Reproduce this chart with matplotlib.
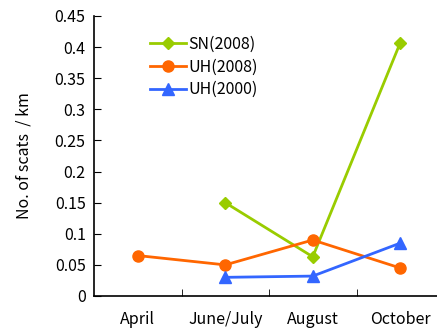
import matplotlib
matplotlib.use("Agg")
import matplotlib.pyplot as plt

plt.rcParams['font.family'] = ['Noto Sans CJK JP', 'DejaVu Sans']

categories = ["April", "June/July", "August", "October"]
sn2008 = [None, 0.150, 0.063, 0.407]
uh2008 = [0.065, 0.050, 0.090, 0.045]
uh2000 = [None, 0.030, 0.032, 0.085]
yticks = [0, 0.05, 0.1, 0.15, 0.2, 0.25, 0.3, 0.35, 0.4, 0.45]
ytick_labels = ["0", "0.05", "0.1", "0.15", "0.2", "0.25", "0.3", "0.35", "0.4", "0.45"]

fig = plt.figure(figsize=(4.37, 3.31), dpi=100)
ax = fig.add_axes([94/437, 1-296/331, 350/437, 280/331])

def pts(vals):
    xs = [i for i, v in enumerate(vals) if v is not None]
    ys = [v for v in vals if v is not None]
    return xs, ys

x, y = pts(sn2008)
ax.plot(x, y, color="#99CC00", marker="D", markersize=6, lw=2, label="SN(2008)")
x, y = pts(uh2008)
ax.plot(x, y, color="#FF6600", marker="o", markersize=8, lw=2, label="UH(2008)")
x, y = pts(uh2000)
ax.plot(x, y, color="#3366FF", marker="^", markersize=8, lw=2, label="UH(2000)")

ax.set_xlim(-0.5, 3.5)
ax.set_ylim(0, 0.45)
ax.set_yticks(yticks)
ax.set_yticklabels(ytick_labels, fontsize=11.5)
ax.set_xticks(range(len(categories)))
ax.set_xticklabels(categories, fontsize=11.5)
ax.set_xticks([0.5, 1.5, 2.5], minor=True)
ax.tick_params(axis='x', which='major', length=0, pad=11)
ax.tick_params(axis='x', which='minor', direction='in', length=5)
ax.tick_params(axis='y', direction='in', length=5, pad=6)
for s in ['top', 'right']:
    ax.spines[s].set_visible(False)
ax.spines['left'].set_linewidth(1.2)
ax.spines['bottom'].set_linewidth(1.2)
ax.set_ylabel("No. of scats  / km", fontsize=11.5, labelpad=16)

ax.legend(loc="upper left", bbox_to_anchor=(0.12, 0.98), frameon=False, fontsize=11.5,
          handlelength=2.2, handletextpad=0.2, labelspacing=0.35)

fig.savefig("out.png", dpi=100)
